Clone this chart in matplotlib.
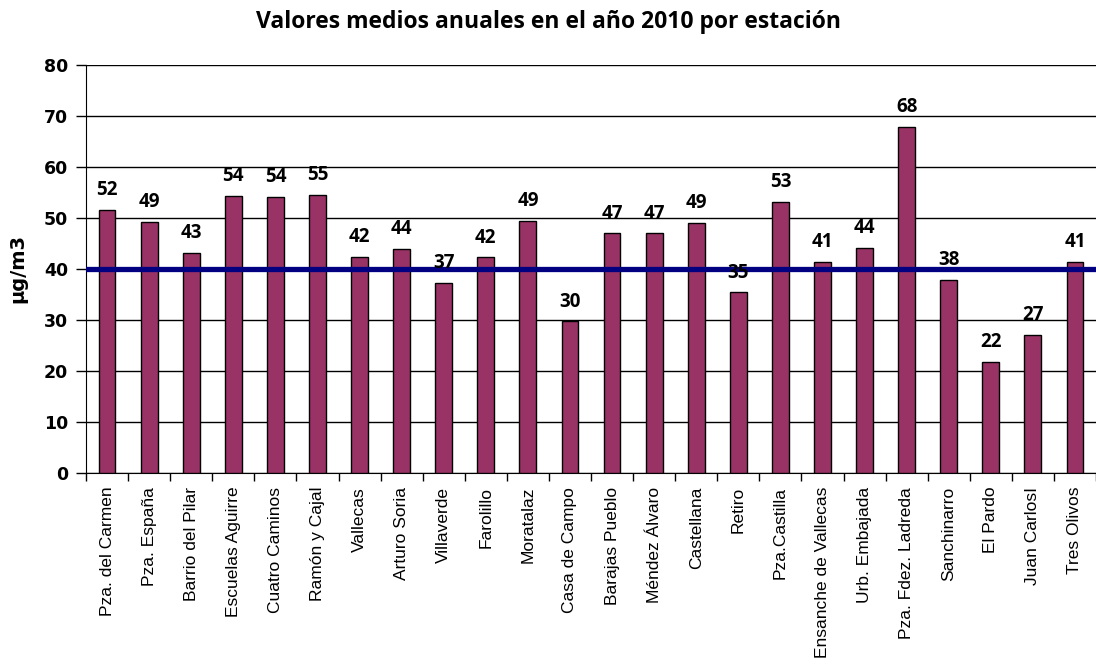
import matplotlib
matplotlib.use('Agg')
import matplotlib.pyplot as plt
import numpy as np

estaciones = ['Pza. del Carmen', 'Pza. España', 'Barrio del Pilar', 'Escuelas Aguirre',
              'Cuatro Caminos', 'Ramón y Cajal', 'Vallecas', 'Arturo Soria', 'Villaverde',
              'Farolillo', 'Moratalaz', 'Casa de Campo', 'Barajas Pueblo', 'Méndez Álvaro',
              'Castellana', 'Retiro', 'Pza.Castilla', 'Ensanche de Vallecas', 'Urb. Embajada',
              'Pza. Fdez. Ladreda', 'Sanchinarro', 'El Pardo', 'Juan CarlosI', 'Tres Olivos']
medias = [51.6, 49.3, 43.1, 54.4, 54.1, 54.6, 42.4, 44.0, 37.3, 42.3, 49.4, 29.7,
          47.0, 47.0, 49.0, 35.4, 53.2, 41.4, 44.2, 67.8, 37.8, 21.8, 27.1, 41.4]
limite = 40

fig = plt.figure(figsize=(10.96, 6.68), dpi=100)
ax = fig.add_axes([0.0785, 0.292, 0.9215, 0.6107])

x = np.arange(len(estaciones))
ax.bar(x, medias, width=0.4, color='#993366', edgecolor='black', linewidth=1, zorder=3)
ax.axhline(limite, color='#000080', linewidth=3.8, zorder=4)

for xi, v in zip(x, medias):
    ax.annotate('%d' % int(v + 0.5), (xi, v), xytext=(0, 7), textcoords='offset points',
                ha='center', va='bottom', fontsize=13.5, fontweight='bold',
                family='Open Sans', zorder=5)

ax.set_xlim(-0.5, len(estaciones) - 0.5)
ax.set_ylim(0, 80)
ax.set_yticks(range(0, 81, 10))
ax.yaxis.grid(True, color='black', linewidth=1)
ax.set_axisbelow(True)

ax.set_xticks(x)
ax.set_xticklabels(estaciones, rotation=90, fontsize=12.5, family='Liberation Sans')
ax.tick_params(axis='x', length=0, pad=10)
ax.set_xticks(np.arange(-0.5, len(estaciones), 1), minor=True)
ax.tick_params(axis='x', which='minor', length=6, width=1, direction='out')
ax.tick_params(axis='y', length=7, width=1, direction='out', pad=6)
for lab in ax.get_yticklabels():
    lab.set_fontsize(12.5)
    lab.set_fontweight('bold')
    lab.set_family('DejaVu Sans')

ax.spines['top'].set_visible(False)
ax.spines['right'].set_visible(False)
ax.set_ylabel('µg/m3', fontsize=14, fontweight='bold', family='DejaVu Sans', labelpad=12)

fig.suptitle('Valores medios anuales en el año 2010 por estación', y=0.985,
             fontsize=16.5, fontweight='bold', family='Open Sans')

fig.savefig('out.png', dpi=100)
